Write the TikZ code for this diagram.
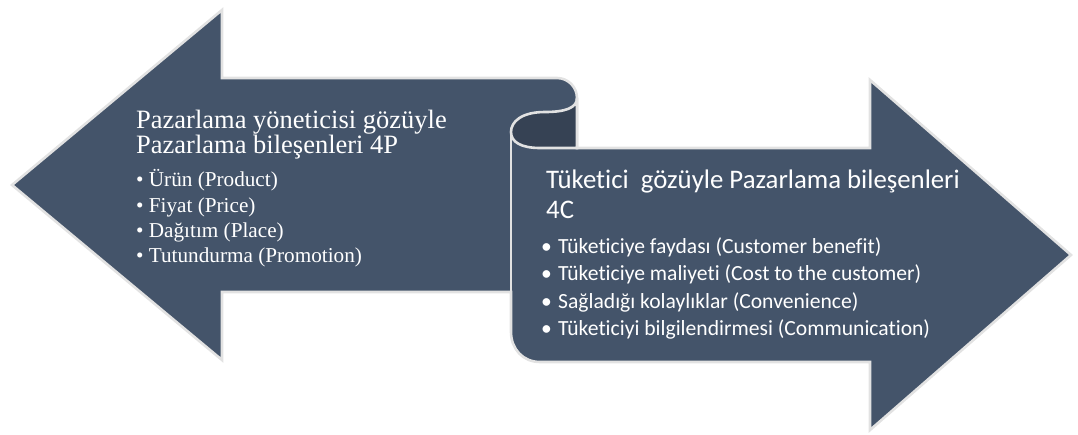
\documentclass[tikz,border=0pt]{standalone}
\usepackage{fontspec}
\setmainfont{Liberation Serif}
\newfontfamily\calibrifont[Ligatures=NoCommon]{Carlito}
\definecolor{slate}{RGB}{68,84,106}
\definecolor{slateback}{RGB}{54,66,84}
\definecolor{rim}{RGB}{226,226,226}
\newcommand{\rbul}{\makebox[17pt][l]{•}}
\tikzset{
  ribbon/.style={fill=slate, draw=rim, line width=2.6pt, line join=miter},
  curl/.style={fill=slateback, draw=rim, line width=2.6pt},
  seam/.style={draw=rim, line width=1.6pt},
  lefttitle/.style={anchor=base west, inner sep=0pt, text=white, font=\fontsize{26.5}{26.5}\selectfont},
  leftitem/.style={anchor=base west, inner sep=0pt, text=white, font=\fontsize{21.2}{21.2}\selectfont},
  righttitle/.style={anchor=base west, inner sep=0pt, text=white, font=\calibrifont\fontsize{26.8}{26.8}\selectfont},
  rightitem/.style={anchor=base west, inner sep=0pt, text=white, font=\calibrifont\fontsize{21.6}{21.6}\selectfont},
}
\begin{document}
\begin{tikzpicture}[x=1pt,y=-1pt]
\useasboundingbox (0,0) rectangle (1078,434);

% the two arrows joined through the rolled ribbon
\path[ribbon] (12,185) -- (222,10) -- (222,78) -- (557,78)
  .. controls (568,78) and (577,87) .. (577,98)
  -- (577,148) -- (870,148) -- (870,80) -- (1071,255) -- (870,430)
  -- (870,362) -- (540,362)
  .. controls (523,362) and (511,349) .. (511,332)
  -- (511,292) -- (222,292) -- (222,360) -- cycle;

% back side of the roll
\path[curl] (577,98)
  .. controls (577,108) and (565,112) .. (545,112)
  .. controls (521,112) and (511,122) .. (511,132)
  .. controls (511,142) and (521,148) .. (540,148)
  -- (577,148) -- cycle;

% edge where the right ribbon passes over the left one
\draw[seam] (511,132) -- (511,292);

% left arrow text
\node[lefttitle] (lt1) at (136,128) {Pazarlama yöneticisi gözüyle};
\node[lefttitle] (lt2) at (136,153) {Pazarlama bileşenleri 4P};
\node[leftitem] (li1) at (136,186) {• Ürün (Product)};
\node[leftitem] (li2) at (136,212) {• Fiyat (Price)};
\node[leftitem] (li3) at (136,237) {• Dağıtım (Place)};
\node[leftitem] (li4) at (136,262) {• Tutundurma (Promotion)};

% right arrow text
\node[righttitle] (rt1) at (546,188) {Tüketici\ \ gözüyle Pazarlama bileşenleri};
\node[righttitle] (rt2) at (546,218) {4C};
\node[rightitem] (ri1) at (541,253) {\rbul Tüketiciye faydası (Customer benefit)};
\node[rightitem] (ri2) at (541,280) {\rbul Tüketiciye maliyeti (Cost to the customer)};
\node[rightitem] (ri3) at (541,308) {\rbul Sağladığı kolaylıklar (Convenience)};
\node[rightitem] (ri4) at (541,335) {\rbul Tüketiciyi bilgilendirmesi (Communication)};
\end{tikzpicture}
\end{document}
